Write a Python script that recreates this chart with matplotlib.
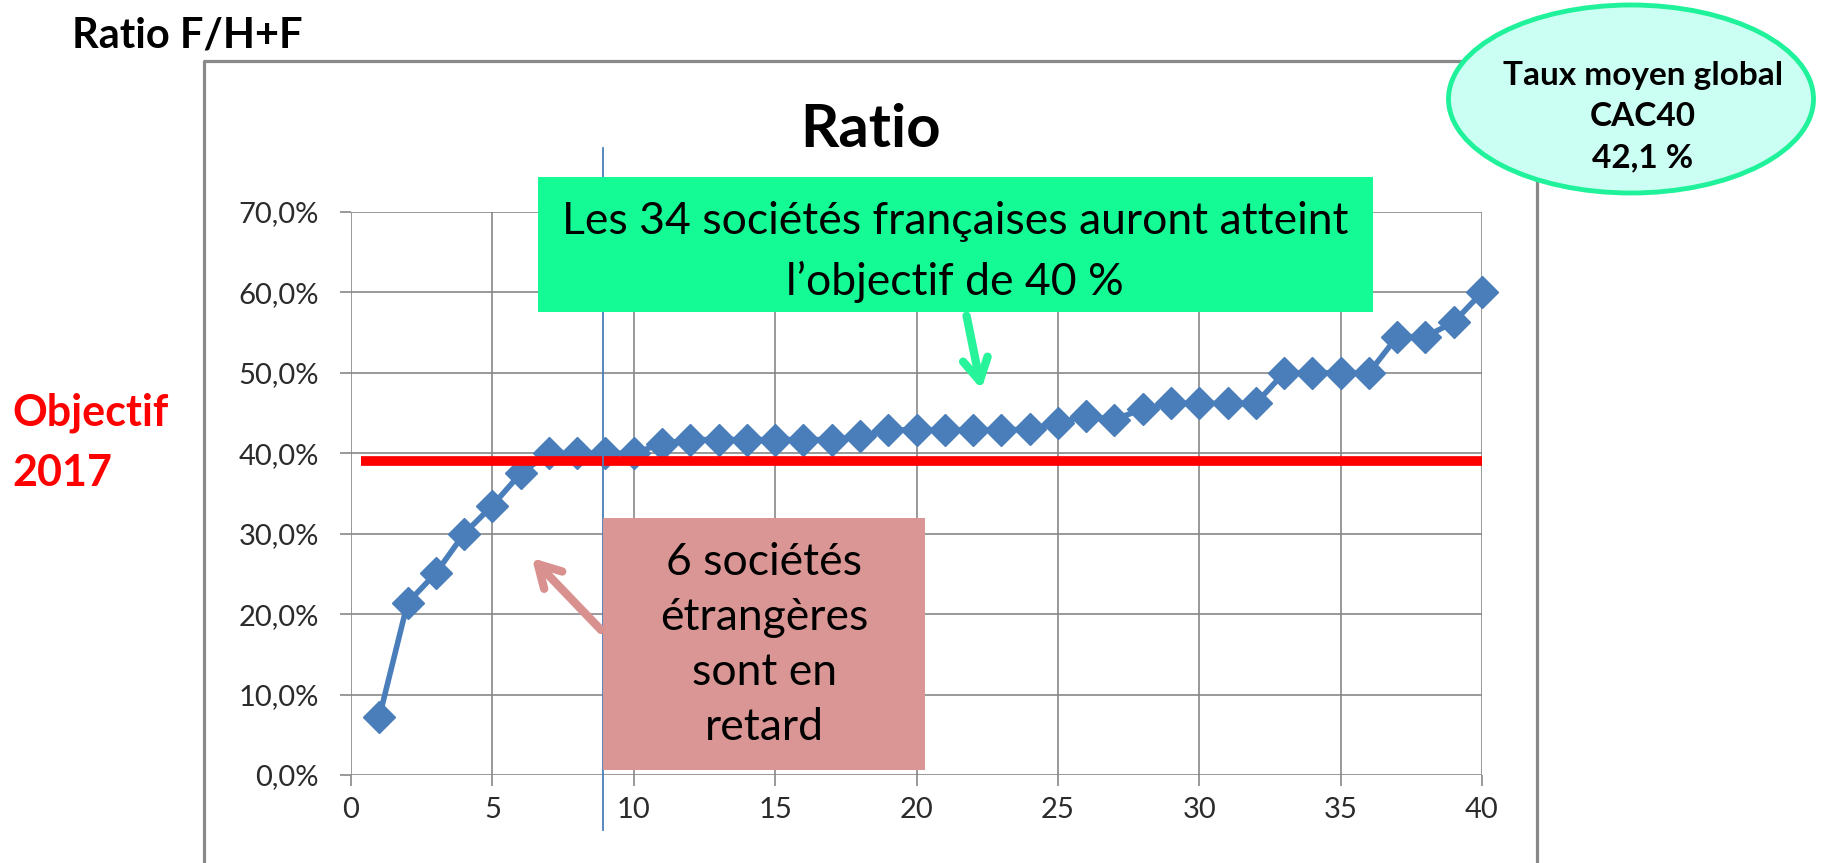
import matplotlib
matplotlib.use("Agg")
import matplotlib.pyplot as plt
import matplotlib.patches as mpatches
from matplotlib.ticker import FuncFormatter

# rang de la societe (1..40) et ratio femmes / (hommes + femmes)
rang = list(range(1, 41))
ratio = [0.072, 0.214, 0.251, 0.300, 0.335, 0.375, 0.400, 0.400, 0.400, 0.400,
         0.412, 0.417, 0.417, 0.417, 0.417, 0.417, 0.417, 0.421, 0.429, 0.429,
         0.429, 0.429, 0.429, 0.430, 0.438, 0.446, 0.442, 0.455, 0.462, 0.462,
         0.462, 0.462, 0.500, 0.500, 0.500, 0.500, 0.545, 0.545, 0.563, 0.600]
objectif = 0.39
objectif_x = [0.35, 40]
separation_x = 8.9

y_ticks = [0, 0.1, 0.2, 0.3, 0.4, 0.5, 0.6, 0.7]
x_ticks = [0, 5, 10, 15, 20, 25, 30, 35, 40]

FONT = "Lato"
W, H = 1821, 863

fig = plt.figure(figsize=(W / 100, H / 100), dpi=100)


def fx(px):
    return px / W


def fy(py):
    return 1 - py / H


# cadre du graphique excel
fig.add_artist(plt.Line2D([fx(204), fx(204), fx(1537), fx(1537)],
                          [fy(870), fy(61), fy(61), fy(870)],
                          color="#898989", lw=2.3))

ax = fig.add_axes([fx(351), fy(775), fx(1482) - fx(351), fy(212) - fy(775)])
ax.set_xlim(0, 40)
ax.set_ylim(0, 0.7)
ax.set_xticks(x_ticks)
ax.set_yticks(y_ticks)
ax.yaxis.set_major_formatter(FuncFormatter(lambda v, p: f"{v * 100:.1f}%".replace(".", ",")))
for s in ax.spines.values():
    s.set_visible(False)
ax.grid(True, color="#878787", lw=1.2)
ax.tick_params(length=8, width=1.2, color="#878787", labelsize=21, labelcolor="#2b2b2b")
ax.tick_params(axis="y", pad=15)
ax.tick_params(axis="x", pad=8)
for lab in ax.get_xticklabels() + ax.get_yticklabels():
    lab.set_fontfamily(FONT)

ax.plot(rang, ratio, color="#4A7EBB", lw=4, marker="D", ms=16, clip_on=False, zorder=4)
ax.plot(objectif_x, [objectif, objectif], color="#FF0000", lw=7, solid_capstyle="butt", zorder=5)
ax.plot([separation_x, separation_x], [-0.069, 0.78], color="#4A7EBB", lw=1.3, clip_on=False, zorder=6)

fig.text(fx(871), fy(130), "Ratio", fontsize=43, fontweight="bold", family=FONT,
         ha="center", va="center")
fig.text(fx(72), fy(35), "Ratio F/H+F", fontsize=30, fontweight="bold", family=FONT,
         ha="left", va="center")
fig.text(fx(12), fy(443), "Objectif\n2017", fontsize=31, fontweight="bold", family=FONT,
         color="#FF0000", ha="left", va="center", linespacing=1.6)

# encadre vert
fig.add_artist(mpatches.Rectangle((fx(538), fy(312)), fx(1373) - fx(538), fy(177) - fy(312),
                                  facecolor="#14FA94", edgecolor="none", zorder=7))
fig.text(fx(955), fy(252), "Les 34 sociétés françaises auront atteint\nl\u2019objectif de 40 %",
         fontsize=32, family=FONT, ha="center", va="center", linespacing=1.55, zorder=8)
fig.add_artist(mpatches.FancyArrowPatch((fx(966), fy(313)), (fx(982), fy(392)),
                                        arrowstyle="->,head_length=16,head_width=9",
                                        color="#26F39A", lw=6, zorder=8))

# encadre rose
fig.add_artist(mpatches.Rectangle((fx(603), fy(770)), fx(925) - fx(603), fy(518) - fy(770),
                                  facecolor="#D99694", edgecolor="none", zorder=7))
fig.text(fx(764), fy(645), "6 sociétés\nétrangères\nsont en\nretard",
         fontsize=32, family=FONT, ha="center", va="center", linespacing=1.42, zorder=8)
fig.add_artist(mpatches.FancyArrowPatch((fx(603), fy(632)), (fx(530), fy(556)),
                                        arrowstyle="->,head_length=16,head_width=9",
                                        color="#D9918F", lw=6, zorder=8))

# ellipse taux moyen
fig.add_artist(mpatches.Ellipse((fx(1631), fy(99)), fx(365), 188 / H,
                                facecolor="#CCFFF3", edgecolor="#1FF29A", lw=3.5, zorder=9))
fig.text(fx(1643), fy(117), "Taux moyen global\nCAC40\n42,1 %", fontsize=24,
         fontweight="bold", family=FONT, ha="center", va="center", linespacing=1.5, zorder=10)

fig.savefig("out.png", dpi=100)
